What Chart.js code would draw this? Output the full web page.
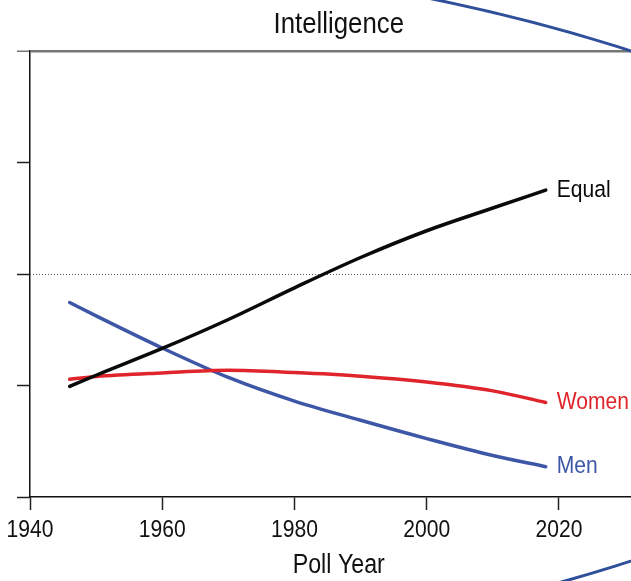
<!DOCTYPE html>
<html>
<head>
<meta charset="utf-8">
<script src="https://cdn.jsdelivr.net/npm/chart.js@4"></script>
<style>
  body { margin: 0; background: #fff; }
</style>
</head>
<body>
<canvas id="myChart" width="631" height="581"></canvas>
<script>
const years = [1946, 1950, 1960, 1970, 1980, 1990, 2000, 2010, 2018];
const equal = [24.8, 27.3, 33.3, 39.8, 46.9, 53.7, 59.7, 64.8, 68.8];
const women = [26.4, 27.0, 27.8, 28.4, 27.9, 27.1, 25.8, 23.8, 21.2];
const men = [43.6, 40.6, 33.4, 26.8, 21.5, 17.2, 13.1, 9.3, 6.8];
const seriesNames = ['Equal', 'Women', 'Men'];
const seriesColors = ['#0a0a0a', '#e0242b', '#3d56a6'];
const referenceValue = 50;
const xTicks = [1940, 1960, 1980, 2000, 2020];
const titleText = 'Intelligence';
const xTitle = 'Poll Year';

const FONT = "'Liberation Sans', Arial, sans-serif";
const SQUEEZE = 0.86; // narrow the text like the condensed face of the original

const toPoints = vals => years.map((y, i) => ({ x: y, y: vals[i] }));

const data = {
  datasets: [equal, women, men].map((vals, i) => ({
    label: seriesNames[i],
    data: toPoints(vals),
    borderColor: seriesColors[i],
    borderWidth: 3.5,
    pointRadius: 0,
    cubicInterpolationMode: 'monotone',
    borderCapStyle: 'round',
  }))
};

function narrowText(ctx, text, x, y, size, color, align, baseline) {
  ctx.save();
  ctx.translate(x, y);
  ctx.scale(SQUEEZE, 1);
  ctx.font = size + 'px ' + FONT;
  ctx.fillStyle = color;
  ctx.textAlign = align;
  ctx.textBaseline = baseline;
  ctx.fillText(text, 0, 0);
  ctx.restore();
}

// dotted reference line, texts and the oval from the source figure
const extras = {
  id: 'extras',
  beforeDatasetsDraw(chart) {
    const { ctx, chartArea, scales } = chart;
    const y = Math.round(scales.y.getPixelForValue(referenceValue)) + 0.5;
    ctx.save();
    ctx.strokeStyle = '#555';
    ctx.lineWidth = 1;
    ctx.setLineDash([1, 2]);
    ctx.beginPath();
    ctx.moveTo(chartArea.left, y);
    ctx.lineTo(chartArea.right, y);
    ctx.stroke();
    ctx.restore();
  },
  afterDraw(chart) {
    const { ctx, scales } = chart;
    const mid = scales.x.getPixelForValue(1986.7);

    narrowText(ctx, titleText, mid, 33, 30, '#111', 'center', 'alphabetic');
    xTicks.forEach(v => {
      narrowText(ctx, String(v), scales.x.getPixelForValue(v), 537, 24.5, '#111', 'center', 'alphabetic');
    });
    narrowText(ctx, xTitle, mid, 573, 27, '#111', 'center', 'alphabetic');

    chart.data.datasets.forEach((ds, i) => {
      const meta = chart.getDatasetMeta(i);
      const last = meta.data[meta.data.length - 1];
      narrowText(ctx, ds.label, last.x + 11, last.y, 24.5, seriesColors[i], 'left', 'middle');
    });

    ctx.save();
    ctx.strokeStyle = '#2f4f9a';
    ctx.lineWidth = 3;
    ctx.beginPath();
    ctx.ellipse(-210, 306, 1168, 367.5, 0, 0, Math.PI * 2);
    ctx.stroke();
    ctx.restore();
  }
};

const config = {
  type: 'line',
  data: data,
  options: {
    responsive: false,
    animation: false,
    layout: { padding: { left: 17, right: 0, top: 51, bottom: 71 } },
    plugins: {
      legend: { display: false },
      title: { display: false },
      tooltip: { enabled: false },
    },
    scales: {
      x: {
        type: 'linear',
        min: 1940,
        max: 2030.9,
        afterBuildTicks: scale => { scale.ticks = xTicks.map(v => ({ value: v })); },
        ticks: { display: false },
        grid: {
          drawOnChartArea: false,
          tickLength: 13,
          tickColor: '#222',
          tickWidth: 1.5,
        },
        border: { color: '#111', width: 1.5 },
      },
      y: {
        min: 0,
        max: 100,
        ticks: { display: false, stepSize: 25 },
        grid: {
          drawOnChartArea: true,
          color: c => c.tick && c.tick.value === 100 ? '#777' : 'rgba(0,0,0,0)',
          lineWidth: c => c.tick && c.tick.value === 100 ? 2.5 : 1,
          tickLength: 13,
          tickColor: c => c.tick && c.tick.value === 100 ? '#777' : '#222',
          tickWidth: 1.5,
        },
        border: { color: '#111', width: 1.5 },
      },
    },
  },
  plugins: [extras],
};

const myChart = new Chart(
  document.getElementById('myChart'),
  config
);
</script>
</body>
</html>
